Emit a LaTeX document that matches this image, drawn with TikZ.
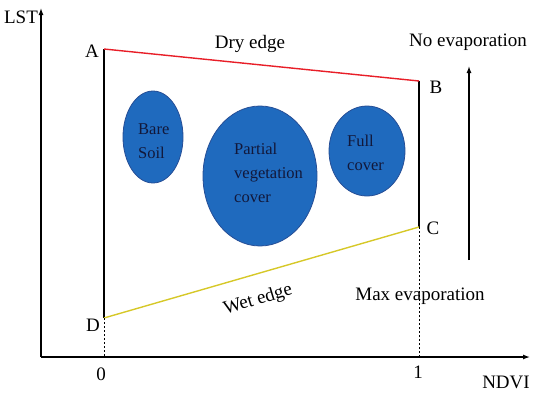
\documentclass[tikz,border=0pt]{standalone}
\usepackage{fontspec}
\setmainfont{Liberation Serif}
\usetikzlibrary{arrows.meta}
\definecolor{blobfill}{RGB}{31,106,190}
\definecolor{blobline}{RGB}{38,78,150}
\definecolor{blobtext}{RGB}{18,24,58}
\definecolor{dryred}{RGB}{232,30,40}
\definecolor{wetyellow}{RGB}{214,200,40}
\begin{document}
\begin{tikzpicture}[x=1pt,y=-1pt,
  lbl/.style={inner sep=0pt,font=\fontsize{19}{21}\selectfont},
  blob/.style={fill=blobfill,draw=blobline,line width=0.8pt},
  blobtxt/.style={inner sep=0pt,align=left,text=blobtext,font=\fontsize{16.5}{24}\selectfont},
  axis/.style={line width=1.3pt,-{Latex[length=7pt,width=5pt]}},
  edge/.style={line width=1.4pt}]
\path[use as bounding box] (0,0) rectangle (550,394);
% points
\coordinate (O) at (41,357);
\coordinate (Ytop) at (41,8);
\coordinate (Xend) at (530,357);
\coordinate (A) at (104,49);
\coordinate (B) at (419,81);
\coordinate (C) at (419,227);
\coordinate (D) at (104,318);
\coordinate (D0) at (104,357);
\coordinate (C1) at (419,357);
\coordinate (Abot) at (469,260);
\coordinate (Atop) at (469,66);
% axes
\draw[axis] (O) -- (Ytop);
\draw[axis] (O) -- (Xend);
% edges
\draw[edge] (A) -- (D);
\draw[edge] (B) -- (C);
\draw[edge,dryred] (A) -- (B);
\draw[edge,wetyellow] (D) -- (C);
\draw[line width=0.8pt,dash pattern=on 2pt off 2pt] (D) -- (D0);
\draw[line width=0.8pt,dash pattern=on 2pt off 2pt] (C) -- (C1);
\draw[axis] (Abot) -- (Atop);
% blobs
\path[blob] (153,137) ellipse [x radius=30,y radius=46];
\path[blob] (260,176) ellipse [x radius=57,y radius=70];
\path[blob] (367,151) ellipse [x radius=38,y radius=45];
\node[blobtxt,anchor=north west] (bare) at (138,123) {Bare\\Soil};
\node[blobtxt,anchor=north west] (partial) at (234,143) {Partial\\vegetation\\cover};
\node[blobtxt,anchor=north west] (full) at (347,135) {Full\\cover};
% labels
\node[lbl] (lst) at (21,17) {LST};
\node[lbl] (la) at (92,51) {A};
\node[lbl] (lb) at (436,87) {B};
\node[lbl] (lc) at (433,228) {C};
\node[lbl] (ld) at (93,325) {D};
\node[lbl] (l0) at (101,374) {0};
\node[lbl] (l1) at (418,372) {1};
\node[lbl] (ndvi) at (506,382) {NDVI};
\node[lbl] (dry) at (250,44) {Dry edge};
\node[lbl,rotate=17] (wet) at (258,300) {Wet edge};
\node[lbl] (noev) at (468,42) {No evaporation};
\node[lbl] (maxev) at (420,296) {Max evaporation};
\end{tikzpicture}
\end{document}
